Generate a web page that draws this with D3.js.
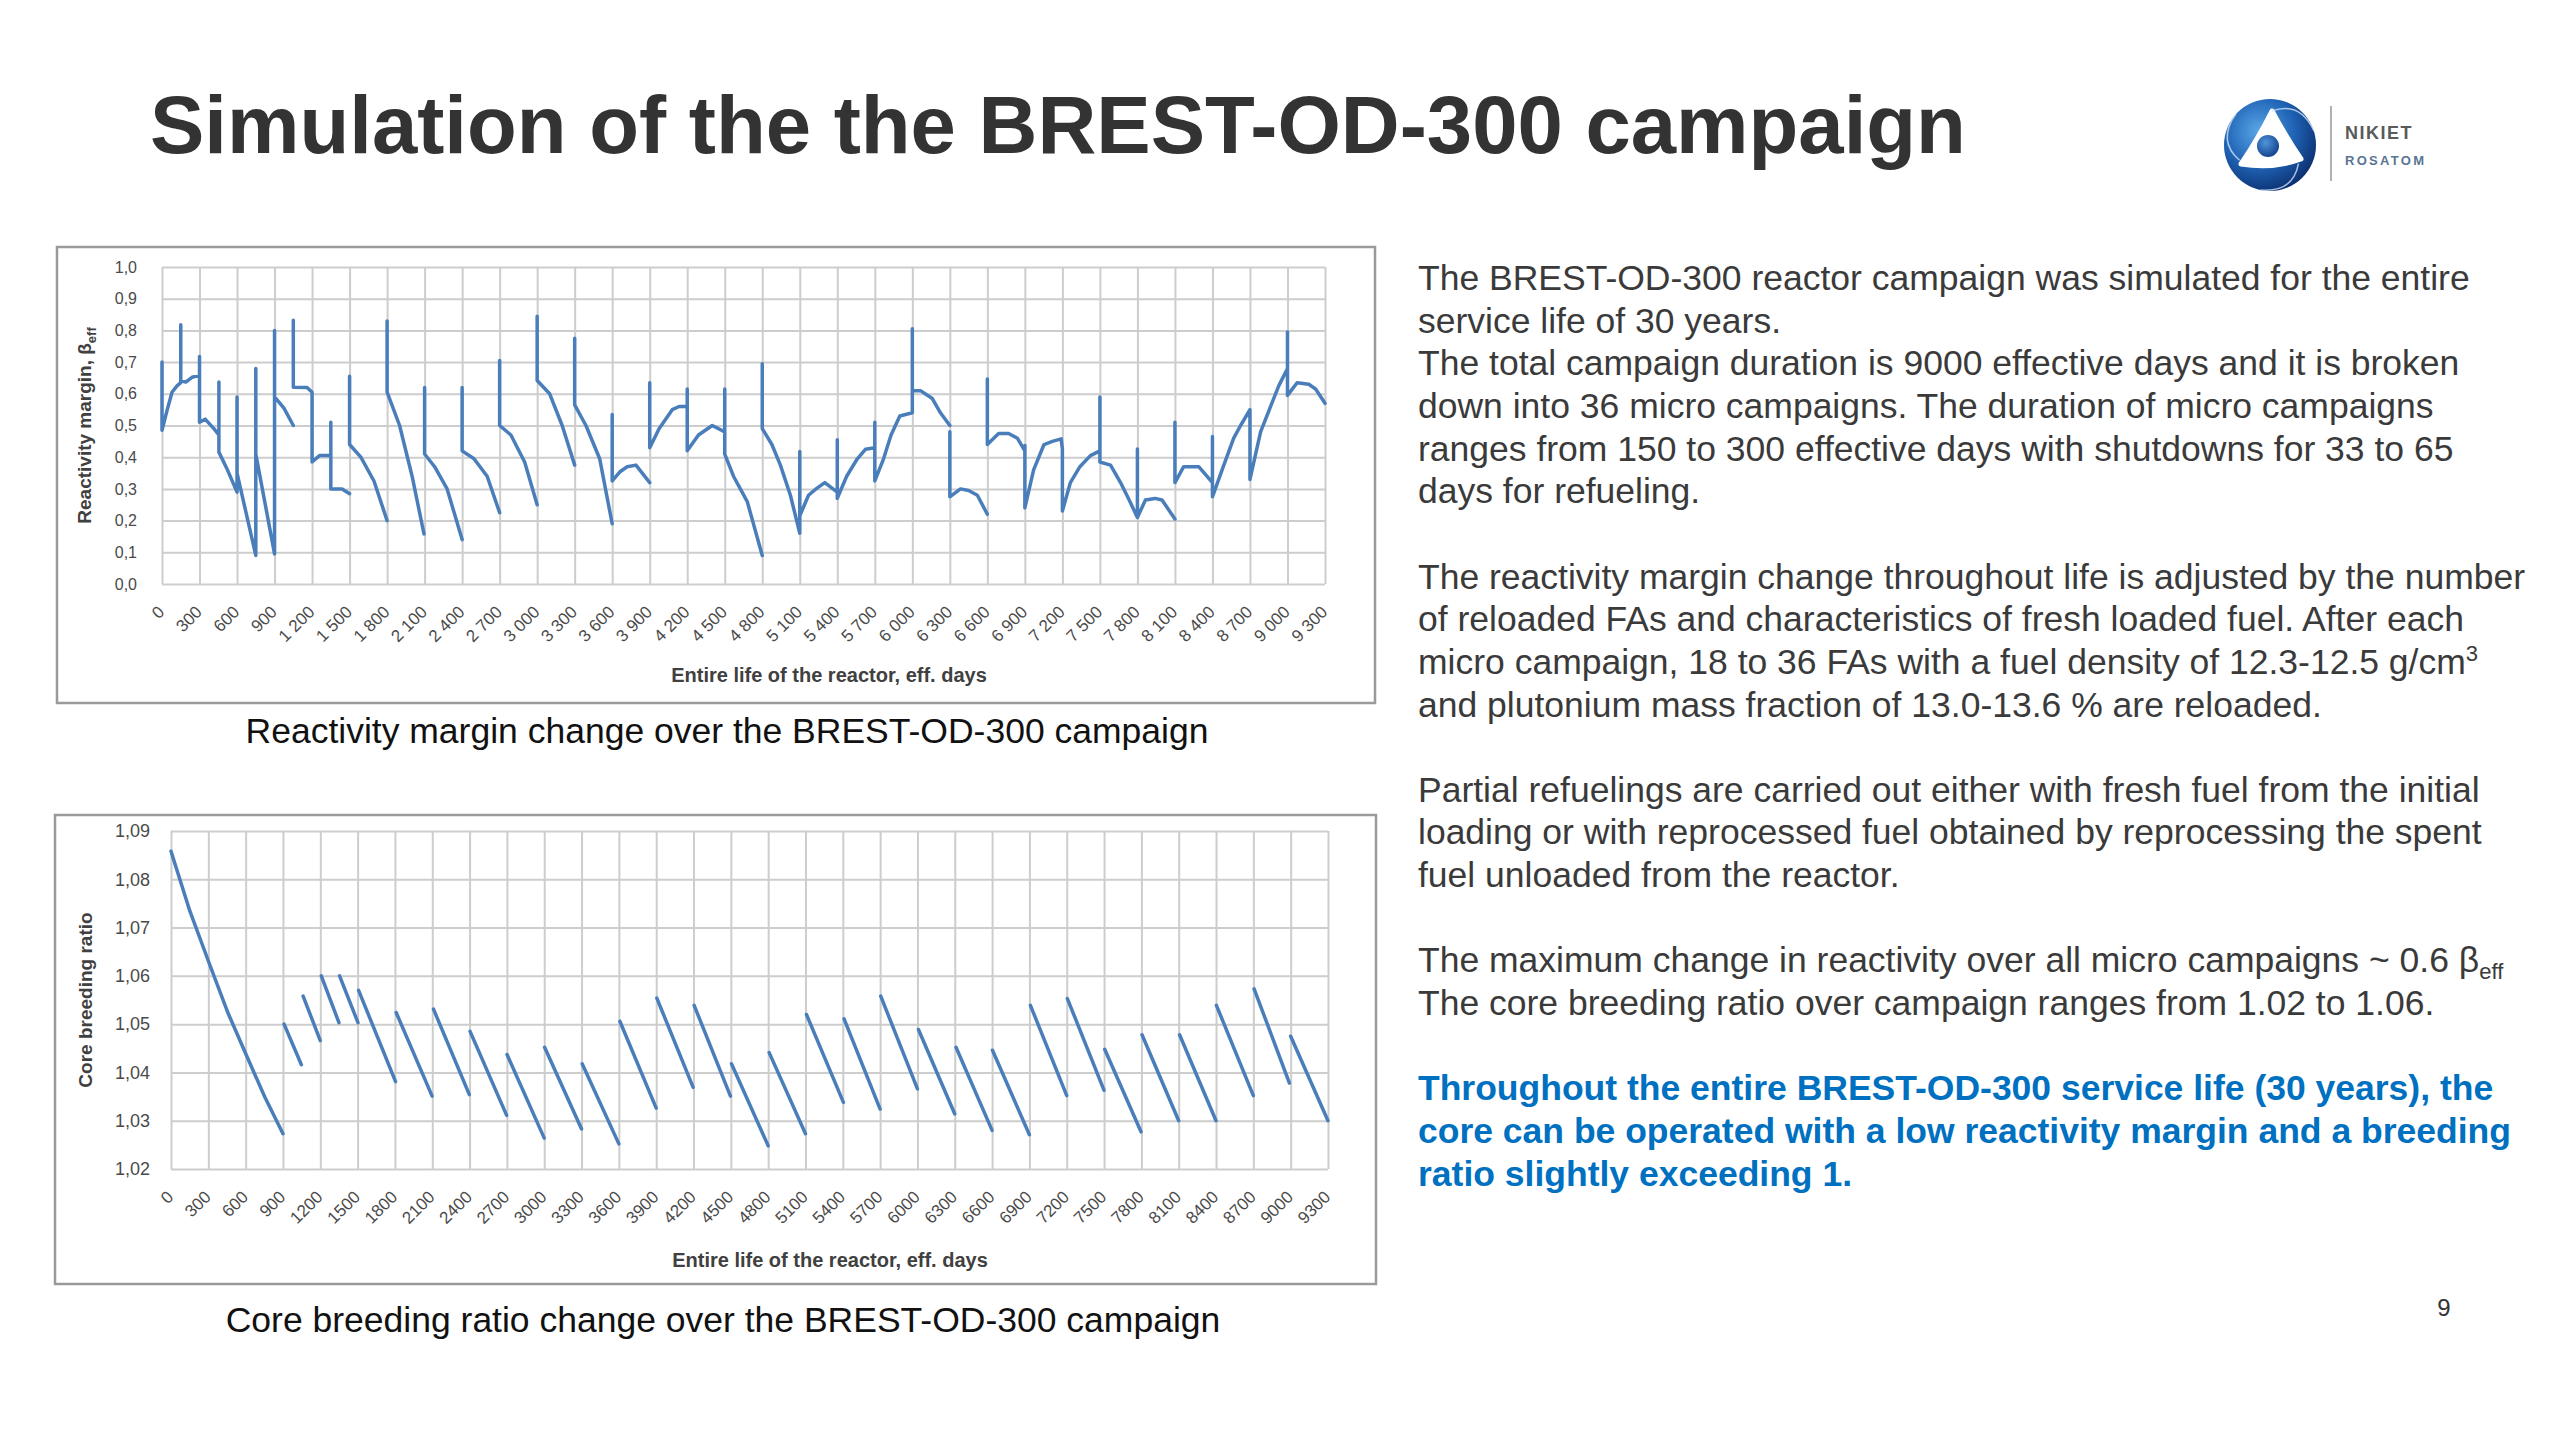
<!DOCTYPE html>
<html><head><meta charset="utf-8">
<script src="https://cdn.jsdelivr.net/npm/d3@7"></script>
<style>html,body{margin:0;padding:0;background:#fff;} svg{display:block;}</style>
</head><body>
<svg id="slide" width="2560" height="1440"></svg>
<script>
// ---------- DATA ----------
const xTickValues = [0,300,600,900,1200,1500,1800,2100,2400,2700,3000,3300,3600,3900,4200,4500,4800,5100,5400,5700,6000,6300,6600,6900,7200,7500,7800,8100,8400,8700,9000,9300];
// top chart: thousands separated by a space
const rmXTickLabels = ["0","300","600","900","1 200","1 500","1 800","2 100","2 400","2 700","3 000","3 300","3 600","3 900","4 200","4 500","4 800","5 100","5 400","5 700","6 000","6 300","6 600","6 900","7 200","7 500","7 800","8 100","8 400","8 700","9 000","9 300"];
// bottom chart: plain numbers
const brXTickLabels = ["0","300","600","900","1200","1500","1800","2100","2400","2700","3000","3300","3600","3900","4200","4500","4800","5100","5400","5700","6000","6300","6600","6900","7200","7500","7800","8100","8400","8700","9000","9300"];

const rmTickValues = [0,0.1,0.2,0.3,0.4,0.5,0.6,0.7,0.8,0.9,1.0];
const rmTickLabels = ["0,0","0,1","0,2","0,3","0,4","0,5","0,6","0,7","0,8","0,9","1,0"];

const brTickValues = [1.02,1.03,1.04,1.05,1.06,1.07,1.08,1.09];
const brTickLabels = ["1,02","1,03","1,04","1,05","1,06","1,07","1,08","1,09"];

// Reactivity margin (beta_eff); null = break between micro-campaign traces
const rmDays = [
  0,0,40,80,120,150,150,150,190,240,300,300,300,345,415,455,455,455,520,600,600,600,750,750,750,900,900,900,975,1050, null,
  1050,1050,1160,1200,1200,1260,1350,1350,1350,1440,1500, null,
  1500,1500,1590,1695,1800, null,
  1800,1800,1900,2000,2095, null,
  2100,2100,2180,2280,2400, null,
  2400,2400,2495,2600,2700, null,
  2700,2700,2790,2900,3000, null,
  3000,3000,3100,3200,3300, null,
  3300,3300,3390,3500,3600, null,
  3600,3600,3665,3720,3790,3900, null,
  3900,3900,3975,4080,4135,4200,4200,4200,4290,4400,4500,4500,4500,4570,4680,4800, null,
  4800,4800,4877,4945,5025,5100,5100,5100,5170,5230,5300,5400,5400,5400,5475,5560,5625,5700,5700,5700,5770,5830,5900,6000,6000,6000,6065,6160,6225,6300, null,
  6300,6300,6385,6450,6520,6600, null,
  6600,6600,6690,6770,6840,6900,6900,6900,6970,7053,7120,7190,7200,7200,7264,7340,7424,7500,7500,7500,7585,7665,7740,7800,7800,7800,7864,7940,7997,8100, null,
  8100,8100,8170,8290,8400,8400,8400,8477,8570,8625,8700,8700,8700,8785,8865,8930,9000,9000,9000,9077,9170,9225,9300
];
const rmValues = [
  0.70,0.485,0.547,0.605,0.625,0.635,0.818,0.642,0.637,0.652,0.658,0.718,0.51,0.52,0.49,0.47,0.637,0.416,0.363,0.29,0.59,0.35,0.09,0.68,0.41,0.095,0.80,0.59,0.555,0.50, null,
  0.832,0.621,0.62,0.605,0.385,0.405,0.405,0.51,0.30,0.30,0.285, null,
  0.655,0.44,0.40,0.325,0.20, null,
  0.83,0.605,0.50,0.34,0.158, null,
  0.62,0.41,0.37,0.30,0.14, null,
  0.62,0.42,0.395,0.34,0.225, null,
  0.705,0.50,0.47,0.385,0.25, null,
  0.845,0.642,0.60,0.50,0.375, null,
  0.775,0.565,0.50,0.395,0.19, null,
  0.535,0.325,0.355,0.37,0.375,0.32, null,
  0.635,0.43,0.49,0.55,0.56,0.56,0.615,0.42,0.47,0.50,0.48,0.615,0.41,0.34,0.26,0.09, null,
  0.695,0.49,0.44,0.375,0.28,0.16,0.418,0.215,0.28,0.30,0.32,0.29,0.455,0.27,0.34,0.395,0.425,0.43,0.51,0.325,0.395,0.47,0.53,0.54,0.805,0.61,0.61,0.585,0.54,0.50, null,
  0.48,0.275,0.30,0.295,0.28,0.22, null,
  0.647,0.44,0.475,0.475,0.46,0.42,0.437,0.24,0.36,0.44,0.45,0.458,0.426,0.23,0.32,0.37,0.405,0.42,0.59,0.385,0.375,0.32,0.26,0.21,0.426,0.21,0.265,0.27,0.265,0.205, null,
  0.51,0.32,0.37,0.37,0.32,0.465,0.275,0.36,0.46,0.50,0.55,0.515,0.33,0.48,0.56,0.625,0.68,0.795,0.595,0.635,0.63,0.615,0.57
];

// Core breeding ratio; null = break between micro campaigns
const brDays = [
  0,152,313,460,607,754,900, null,
  909,1048, null, 1062,1200, null, 1208,1350, null, 1355,1503, null, 1508,1805, null,
  1810,2099, null, 2110,2398, null, 2404,2698, null, 2701,3000, null, 3003,3300, null,
  3305,3600, null, 3608,3900, null, 3905,4197, null, 4205,4497, null, 4505,4800, null,
  4808,5100, null, 5108,5405, null, 5410,5700, null, 5705,6000, null, 6008,6300, null,
  6310,6600, null, 6603,6900, null, 6908,7200, null, 7205,7500, null, 7505,7797, null,
  7805,8100, null, 8107,8400, null, 8403,8700, null, 8706,8990, null, 9000,9300
];
const brValues = [
  1.0858,1.0734,1.0622,1.0522,1.0435,1.0349,1.0273, null,
  1.0500,1.0416, null, 1.0558,1.0466, null, 1.0600,1.0503, null, 1.0600,1.0503, null, 1.0570,1.0381, null,
  1.0524,1.0351, null, 1.0531,1.0354, null, 1.0485,1.0311, null, 1.0437,1.0264, null, 1.0452,1.0283, null,
  1.0418,1.0252, null, 1.0506,1.0326, null, 1.0554,1.0369, null, 1.0539,1.0351, null, 1.0418,1.0248, null,
  1.0441,1.0273, null, 1.0520,1.0338, null, 1.0511,1.0324, null, 1.0558,1.0366, null, 1.0489,1.0314, null,
  1.0452,1.0280, null, 1.0446,1.0271, null, 1.0539,1.0352, null, 1.0553,1.0363, null, 1.0448,1.0277, null,
  1.0478,1.0300, null, 1.0478,1.0300, null, 1.0539,1.0352, null, 1.0573,1.0378, null, 1.0475,1.0300
];

// ---------- DRAW ----------
const FONT = "'Liberation Sans', Arial, Helvetica, sans-serif";
const svg = d3.select('#slide');
svg.append('rect').attr('width',2560).attr('height',1440).attr('fill','#fff');

// Title
svg.append('text').attr('x',150).attr('y',153)
  .attr('font-family',FONT).attr('font-weight','bold').attr('font-size',81.5)
  .attr('fill','#333333').text('Simulation of the the BREST-OD-300 campaign');

function drawChart(o){
  const g = svg.append('g');
  g.append('rect').attr('x',o.box[0]).attr('y',o.box[1]).attr('width',o.box[2]).attr('height',o.box[3])
    .attr('fill','#fff').attr('stroke','#9a9a9a').attr('stroke-width',2.5);
  const x = d3.scaleLinear().domain([0,9300]).range([o.px0,o.px1]);
  const y = d3.scaleLinear().domain(o.yDomain).range([o.py1,o.py0]);

  const gy = g.append('g').attr('transform',`translate(${o.px0},0)`)
    .call(d3.axisLeft(y).tickValues(o.yTicks).tickFormat((d,i)=>o.yLabels[i])
      .tickSize(-(o.px1-o.px0)).tickPadding(o.ypad));
  gy.select('.domain').remove();
  gy.selectAll('line').attr('stroke','#cdcdcd').attr('stroke-width',2);
  gy.selectAll('text').attr('font-family',FONT).attr('font-size',o.yfs).attr('fill','#4a4a4a');

  const gx = g.append('g').attr('transform',`translate(0,${o.py1})`)
    .call(d3.axisBottom(x).tickValues(xTickValues).tickFormat((d,i)=>o.xLabels[i])
      .tickSize(-(o.py1-o.py0)));
  gx.select('.domain').remove();
  gx.selectAll('line').attr('stroke','#cdcdcd').attr('stroke-width',2);
  gx.selectAll('text').attr('font-family',FONT).attr('font-size',17).attr('fill','#4a4a4a')
    .attr('text-anchor','end').attr('dy',null).attr('x',3).attr('y',29)
    .attr('transform','rotate(-45,3,29)');

  const line = d3.line().defined(d=>d[1]!==null).x(d=>x(d[0])).y(d=>y(d[1]));
  const pts = o.days.map((d,i)=>[d,o.vals[i]]);
  g.append('path').attr('d',line(pts)).attr('fill','none').attr('stroke','#4a7ebb')
    .attr('stroke-width',3.5).attr('stroke-linejoin','round').attr('stroke-linecap','round');

  // y title
  const yt = g.append('text').attr('transform',`translate(${o.ytx},${(o.py0+o.py1)/2}) rotate(-90)`)
    .attr('text-anchor','middle').attr('font-family',FONT).attr('font-weight','bold')
    .attr('font-size',19).attr('fill','#404040');
  yt.append('tspan').text(o.ytitle);
  if(o.ysub){ yt.append('tspan').attr('font-size',13).attr('dy',5).text(o.ysub); }
  // x title
  g.append('text').attr('x',o.xtx).attr('y',o.xty).attr('text-anchor','middle')
    .attr('font-family',FONT).attr('font-weight','bold').attr('font-size',20).attr('fill','#404040')
    .text('Entire life of the reactor, eff. days');
  // caption
  g.append('text').attr('x',o.capx).attr('y',o.capy).attr('text-anchor','middle')
    .attr('font-family',FONT).attr('font-size',35.5).attr('fill','#111')
    .text(o.caption);
}

drawChart({box:[57,247,1318,456], px0:162, px1:1325, py0:267, py1:584,
  yDomain:[0,1], yTicks:rmTickValues, yLabels:rmTickLabels, yfs:16, ypad:25, xLabels:rmXTickLabels,
  days:rmDays, vals:rmValues,
  ytx:91, ytitle:'Reactivity margin, β', ysub:'eff', xtx:829, xty:682,
  capx:727, capy:743, caption:'Reactivity margin change over the BREST-OD-300 campaign'});

drawChart({box:[55,815,1321,469], px0:171, px1:1328, py0:831, py1:1169,
  yDomain:[1.02,1.09], yTicks:brTickValues, yLabels:brTickLabels, yfs:18, ypad:21, xLabels:brXTickLabels,
  days:brDays, vals:brValues,
  ytx:92, ytitle:'Core breeding ratio', ysub:null, xtx:830, xty:1267,
  capx:723, capy:1332, caption:'Core breeding ratio change over the BREST-OD-300 campaign'});

// ---------- Right text block ----------
const TX = 1418, L0 = 290, LH = 42.65;
function tline(idx, parts, opts={}){
  const t = svg.append('text').attr('x',TX).attr('y',L0+LH*idx)
    .attr('font-family',FONT).attr('font-size',35.5)
    .attr('fill',opts.color||'#3a3a3a').attr('font-weight',opts.bold?'bold':'normal');
  parts.forEach(p=>{
    if(typeof p==='string'){ t.append('tspan').text(p); }
    else if(p.sup){ t.append('tspan').attr('font-size',22).attr('dy',-13).text(p.sup); }
    else if(p.sub){ t.append('tspan').attr('font-size',22).attr('dy',7).text(p.sub); }
  });
}
tline(0,['The BREST-OD-300 reactor campaign was simulated for the entire']);
tline(1,['service life of 30 years.']);
tline(2,['The total campaign duration is 9000 effective days and it is broken']);
tline(3,['down into 36 micro campaigns. The duration of micro campaigns']);
tline(4,['ranges from 150 to 300 effective days with shutdowns for 33 to 65']);
tline(5,['days for refueling.']);
tline(7,['The reactivity margin change throughout life is adjusted by the number']);
tline(8,['of reloaded FAs and characteristics of fresh loaded fuel. After each']);
tline(9,['micro campaign, 18 to 36 FAs with a fuel density of 12.3-12.5 g/cm',{sup:'3'}]);
tline(10,['and plutonium mass fraction of 13.0-13.6 % are reloaded.']);
tline(12,[' Partial refuelings are carried out either with fresh fuel from the initial']);
tline(13,['loading or with reprocessed fuel obtained by reprocessing the spent']);
tline(14,['fuel unloaded from the reactor.']);
tline(16,['The maximum change in reactivity over all micro campaigns ~ 0.6 β',{sub:'eff'}]);
tline(17,['The core breeding ratio over campaign ranges from 1.02 to 1.06.']);
tline(19,['Throughout the entire BREST-OD-300 service life (30 years), the'],{bold:true,color:'#0070c0'});
tline(20,['core can be operated with a low reactivity margin and a breeding'],{bold:true,color:'#0070c0'});
tline(21,['ratio slightly exceeding 1.'],{bold:true,color:'#0070c0'});

// page number
svg.append('text').attr('x',2444).attr('y',1316).attr('text-anchor','middle')
  .attr('font-family',FONT).attr('font-size',24).attr('fill','#333').text('9');

// ---------- Logo ----------
const defs = svg.append('defs');
const rg = defs.append('radialGradient').attr('id','lgGrad').attr('cx','38%').attr('cy','35%').attr('r','70%');
rg.append('stop').attr('offset','0%').attr('stop-color','#5aa6e6');
rg.append('stop').attr('offset','55%').attr('stop-color','#1f63b5');
rg.append('stop').attr('offset','100%').attr('stop-color','#0b2e6e');
const rg2 = defs.append('radialGradient').attr('id','lgBall').attr('cx','40%').attr('cy','35%').attr('r','70%');
rg2.append('stop').attr('offset','0%').attr('stop-color','#4f95dc');
rg2.append('stop').attr('offset','100%').attr('stop-color','#123f8a');
const lg = svg.append('g').attr('transform','translate(2270,145)');
lg.append('circle').attr('r',46).attr('fill','url(#lgGrad)');
lg.append('path').attr('d','M 2,-34 Q 16,-8 31,14 Q 4,24 -29,19 Q -12,-6 2,-34 Z')
  .attr('fill','#fff').attr('stroke','#fff').attr('stroke-width',5).attr('stroke-linejoin','round');
[0,120,240].forEach(a=>{
  lg.append('path').attr('d','M 2,-34 Q 30,-44 44,-14').attr('fill','none')
    .attr('stroke','#cfe2f6').attr('stroke-width',1.5).attr('opacity',0.8)
    .attr('transform',`rotate(${a})`);
});
lg.append('circle').attr('cx',-2).attr('cy',1).attr('r',11).attr('fill','url(#lgBall)');
svg.append('line').attr('x1',2331).attr('x2',2331).attr('y1',106).attr('y2',181)
  .attr('stroke','#b0b0b0').attr('stroke-width',2);
svg.append('text').attr('x',2345).attr('y',139).attr('font-family',FONT).attr('font-weight','bold')
  .attr('font-size',18).attr('letter-spacing',1.5).attr('fill','#5a5a5a').text('NIKIET');
svg.append('text').attr('x',2345).attr('y',165).attr('font-family',FONT).attr('font-weight','bold')
  .attr('font-size',13).attr('letter-spacing',2.3).attr('fill','#587593').text('ROSATOM');
</script>
</body></html>
